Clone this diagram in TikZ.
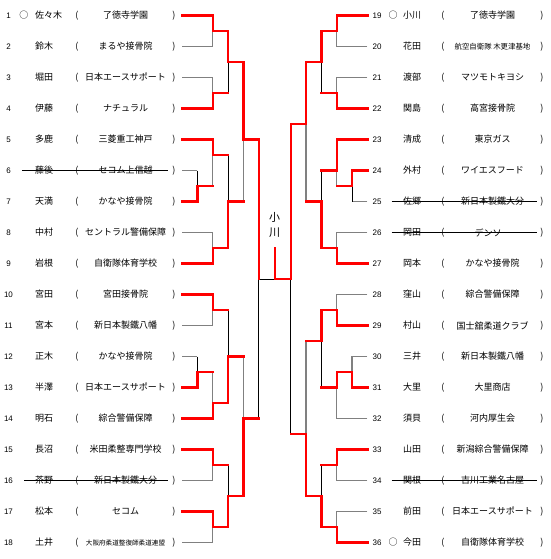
\documentclass[tikz,border=0pt]{standalone}
\usepackage{fontspec}
\setmainfont{Liberation Sans}
\newfontfamily\jp{Noto Sans CJK JP}
\usetikzlibrary{positioning}

\begin{document}
\begin{tikzpicture}[
  x=1pt, y=-1pt,
  win/.style={draw=red, line width=2.4pt, line cap=rect},
  lose/.style={draw=gray, line width=1.1pt},
  losek/.style={draw=black, line width=0.8pt},
  txt/.style={inner sep=0pt, font=\jp\fontsize{9}{9}\selectfont},
  num/.style={inner sep=0pt, font=\fontsize{8}{8}\selectfont},
  strike/.style={draw=black, line width=0.7pt}
]
\useasboundingbox (0,0) rectangle (550,559);

% left entries
\foreach \n/\nm/\cl in {1/佐々木/了徳寺学園, 2/鈴木/まるや接骨院, 3/堀田/日本エースサポート,
  4/伊藤/ナチュラル, 5/多鹿/三菱重工神戸, 6/藤後/セコム上信越, 7/天満/かなや接骨院,
  8/中村/セントラル警備保障, 9/岩根/自衛隊体育学校, 10/宮田/宮田接骨院,
  11/宮本/新日本製鐵八幡, 12/正木/かなや接骨院, 13/半澤/日本エースサポート,
  14/明石/綜合警備保障, 15/長沼/米田柔整専門学校, 16/茶野/新日本製鐵大分,
  17/松本/セコム, 18/土井/{\fontsize{6.6}{7}\selectfont 大阪府柔道整復師柔道連盟}} {
  \pgfmathsetmacro\yy{(2*\n-1)*15.5}
  \node[num] (n\n) at (8.5,\yy) {\n};
  \node[txt, anchor=west] (m\n) at (35,\yy) {\nm};
  \node[txt] (o\n) at (77,\yy) {(};
  \node[txt] (a\n) at (125.5,\yy) {\cl};
  \node[txt] (c\n) at (174,\yy) {)};
  \coordinate (L\n) at (182,\yy);
}

% right entries
\foreach \n/\nm/\cl in {19/小川/了徳寺学園, 20/花田/{\fontsize{7.4}{8}\selectfont 航空自衛隊 木更津基地},
  21/渡部/マツモトキヨシ, 22/関島/高宮接骨院, 23/清成/東京ガス, 24/外村/ワイエスフード,
  25/佐郷/新日本製鐵大分, 26/岡田/デンソー, 27/岡本/かなや接骨院, 28/窪山/綜合警備保障,
  29/村山/国士舘柔道クラブ, 30/三井/新日本製鐵八幡, 31/大里/大里商店, 32/須貝/河内厚生会,
  33/山田/新潟綜合警備保障, 34/関根/吉川工業名古屋, 35/前田/日本エースサポート,
  36/今田/自衛隊体育学校} {
  \pgfmathsetmacro\yy{(2*(\n-18)-1)*15.5}
  \node[num] (n\n) at (377,\yy) {\n};
  \node[txt, anchor=west] (m\n) at (403,\yy) {\nm};
  \node[txt] (o\n) at (443,\yy) {(};
  \node[txt] (a\n) at (492.5,\yy) {\cl};
  \node[txt] (c\n) at (542,\yy) {)};
  \coordinate (R\n) at (367.3,\yy);
}

% seeds
\node[txt] (seed1) at (24,15.5) {○};
\node[txt] (seed19) at (393,15.5) {○};
\node[txt] (seed36) at (393,542.5) {○};

% withdrawn
\foreach \n in {6,16}
  \draw[strike] ([xshift=11pt]n\n.east) -- ([xshift=-4pt]c\n.west);
\foreach \n in {25,26,34}
  \draw[strike] ([xshift=10pt]n\n.east) -- ([xshift=-3.5pt]c\n.west);

% junctions left
\coordinate (s12) at (212.7,31);
\coordinate (s34) at (212.7,93);
\coordinate (s14) at (228,62);
\coordinate (s67) at (197.3,186);
\coordinate (s57) at (212.7,155);
\coordinate (s89) at (212.7,248);
\coordinate (s59) at (228,201.5);
\coordinate (s19) at (243.3,139.5);
\coordinate (s1011) at (212.7,310);
\coordinate (s1213) at (197.3,372);
\coordinate (s1214) at (212.7,403);
\coordinate (s1014) at (228,356.5);
\coordinate (s1516) at (212.7,465);
\coordinate (s1718) at (212.7,527);
\coordinate (s1518) at (228,496);
\coordinate (s1018) at (243.3,418.5);
\coordinate (s118) at (258.7,279);
% junctions right
\coordinate (s1920) at (336.7,31);
\coordinate (s2122) at (336.7,93);
\coordinate (s1922) at (321.3,62);
\coordinate (s2425) at (352,186);
\coordinate (s2325) at (336.7,170.5);
\coordinate (s2627) at (336.7,248);
\coordinate (s2327) at (321.3,201.5);
\coordinate (s1927) at (306,124);
\coordinate (s2829) at (336.7,310);
\coordinate (s3031) at (352,372);
\coordinate (s3032) at (336.7,387.5);
\coordinate (s2832) at (321.3,341);
\coordinate (s3334) at (336.7,465);
\coordinate (s3536) at (336.7,527);
\coordinate (s3336) at (321.3,496);
\coordinate (s2836) at (306,434);
\coordinate (s1936) at (290.7,279);
% final
\coordinate (fin) at (274.7,279);
\coordinate (top) at (274.7,248);
\node[inner sep=0pt, align=center, font=\jp\fontsize{11}{15}\selectfont] (champ) at (274.7,225) {小\\川};

% lost
\draw[lose] (L2) -| (s12);
\draw[lose] (L3) -| (s34);
\draw[losek] (s34 -| s14) -- (s14);
\draw[lose] (L6) -- (L6 -| s67);
\draw[losek] (L6 -| s67) -- (s67);
\draw[lose] (s67 -| s57) -- (s57);
\draw[losek] (s57 -| s59) -- (s59);
\draw[lose] (L8) -| (s89);
\draw[lose] (s59 -| s19) -- (s19);
\draw[lose] (L11) -| (s1011);
\draw[losek] (s1011 -| s1014) -- (s1014);
\draw[lose] (L12) -- (L12 -| s1213);
\draw[losek] (L12 -| s1213) -- (s1213);
\draw[lose] (s1213 -| s1214) -- (s1214);
\draw[lose] (s1014 -| s1018) -- (s1018);
\draw[lose] (L16) -| (s1516);
\draw[losek] (s1516 -| s1518) -- (s1518);
\draw[lose] (L18) -| (s1718);
\draw[losek] (s1018 -| s118) -- (s118);
\draw[losek] (s118) -- (fin);
\draw[lose] (R20) -| (s1920);
\draw[lose] (R21) -| (s2122);
\draw[losek] (s2122 -| s1922) -- (s1922);
\draw[lose] (R25) -- (R25 -| s2425);
\draw[losek] (R25 -| s2425) -- (s2425);
\draw[lose] (s2425 -| s2325) -- (s2325);
\draw[losek] (s2325 -| s2327) -- (s2327);
\draw[lose] (R26) -| (s2627);
\draw[lose] (s2327 -| s1927) -- (s1927);
\draw[lose] (R28) -| (s2829);
\draw[lose] (R30) -| (s3031);
\draw[lose] (R32) -| (s3032);
\draw[losek] (s3032 -| s2832) -- (s2832);
\draw[lose] (s2832 -| s2836) -- (s2836);
\draw[lose] (R34) -| (s3334);
\draw[losek] (s3334 -| s3336) -- (s3336);
\draw[lose] (R35) -| (s3536);
\draw[losek] (s2836 -| s1936) -- (s1936);

% won
\draw[win] (L1) -| (s12);
\draw[win] (s12) -| (s14);
\draw[win] (L4) -| (s34);
\draw[win] (s34) -- (s34 -| s14);
\draw[win] (s14) -| (s19);
\draw[win] (L5) -| (s57);
\draw[win] (L7) -| (s67);
\draw[win] (s67) -- (s67 -| s57);
\draw[win] (s57) -- (s57 -| s59);
\draw[win] (L9) -| (s89);
\draw[win] (s89) -| (s59);
\draw[win] (s59) -- (s59 -| s19);
\draw[win] (s19) -| (s118);
\draw[win] (L10) -| (s1011);
\draw[win] (s1011) -- (s1011 -| s1014);
\draw[win] (L13) -| (s1213);
\draw[win] (s1213) -- (s1213 -| s1214);
\draw[win] (L14) -| (s1214);
\draw[win] (s1214) -| (s1014);
\draw[win] (s1014) -- (s1014 -| s1018);
\draw[win] (L15) -| (s1516);
\draw[win] (s1516) -- (s1516 -| s1518);
\draw[win] (L17) -| (s1718);
\draw[win] (s1718) -| (s1518);
\draw[win] (s1518) -| (s1018);
\draw[win] (s1018) -- (s1018 -| s118);
\draw[win] (s1936) -- (fin) -- (top);
\draw[win] (R19) -| (s1920);
\draw[win] (s1920) -| (s1922);
\draw[win] (R22) -| (s2122);
\draw[win] (s2122) -- (s2122 -| s1922);
\draw[win] (s1922) -| (s1927);
\draw[win] (R23) -| (s2325);
\draw[win] (R24) -| (s2425);
\draw[win] (s2425) -- (s2425 -| s2325);
\draw[win] (s2325) -- (s2325 -| s2327);
\draw[win] (R27) -| (s2627);
\draw[win] (s2627) -| (s2327);
\draw[win] (s2327) -- (s2327 -| s1927);
\draw[win] (s1927) -| (s1936);
\draw[win] (R29) -| (s2829);
\draw[win] (s2829) -| (s2832);
\draw[win] (R31) -| (s3031);
\draw[win] (s3031) -| (s3032);
\draw[win] (s3032) -- (s3032 -| s2832);
\draw[win] (s2832) -- (s2832 -| s2836);
\draw[win] (R33) -| (s3334);
\draw[win] (s3334) -- (s3334 -| s3336);
\draw[win] (R36) -| (s3536);
\draw[win] (s3536) -| (s3336);
\draw[win] (s3336) -| (s2836);
\draw[win] (s2836) -- (s2836 -| s1936);
\end{tikzpicture}
\end{document}
